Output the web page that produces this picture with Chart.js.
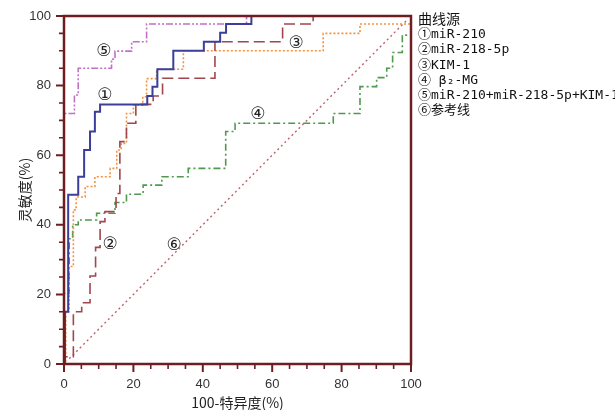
<!DOCTYPE html>
<html>
<head>
<meta charset="utf-8">
<script src="https://cdn.jsdelivr.net/npm/chart.js@4.4.1/dist/chart.umd.min.js"></script>
<style>
  html, body { margin: 0; padding: 0; background: #fff; }
  #wrap { position: relative; width: 615px; height: 410px; }
  #legend {
    position: absolute; left: 418px; top: 11px;
    font: 13px "DejaVu Sans Mono", "Noto Sans CJK SC", monospace;
    line-height: 15.2px; color: #111; white-space: nowrap;
  }
  #legend .ttl { font-family: "Noto Sans CJK SC", sans-serif; font-size: 14px; }
</style>
</head>
<body>
<div id="wrap">
  <canvas id="roc" width="615" height="410"></canvas>
  <div id="legend"></div>
</div>
<script>
// ── data (100-specificity %, sensitivity %) ─────────────
const mir210X = [0, 0.3, 1.2, 4.1, 5.8, 7.5, 8.9, 10.4, 24, 25.5, 26.9, 31.5, 40.3, 45, 46.7, 54, 100];
const mir210Y = [0, 15, 48.6, 53.8, 61.5, 66.8, 72.5, 74.6, 77, 79.7, 84.7, 90, 92.6, 95.2, 97.7, 100, 100];

const mir218X = [0, 0, 2.7, 5.1, 7.5, 9.1, 10.4, 11.8, 15, 16.1, 18, 20.7, 25.7, 28.4, 43.5, 63, 71.8, 100];
const mir218Y = [0, 2.1, 15, 17.6, 25.3, 33.5, 40.9, 43.8, 49, 63.9, 69.2, 74.6, 77, 82.1, 92.6, 97.7, 100, 100];

const kimX = [0, 0.5, 1.5, 2.7, 3.5, 6.1, 8.9, 13.3, 15.2, 16.5, 18, 20, 22.7, 23.8, 26.7, 34.4, 74.7, 85.3, 100];
const kimY = [0, 15, 28, 44.3, 48, 51, 53.8, 56.2, 61.5, 63.4, 72, 74.4, 76.8, 82, 84.7, 90, 95, 97.7, 100];

const b2mgX = [0, 0, 1.5, 2.5, 4.1, 9.4, 14.7, 18, 22.8, 28.2, 35.8, 46.6, 49.3, 77.6, 85.3, 90.1, 93, 94.7, 97.5, 100];
const b2mgY = [0, 20.3, 36, 40, 41.4, 43.3, 46.4, 48.8, 51.4, 53.8, 56.2, 66.8, 69.2, 72, 79.7, 82.3, 85, 89.5, 94.5, 100];

const comboX = [0, 0, 3, 4.1, 13.7, 14.7, 19.5, 23.8, 52.6, 100];
const comboY = [0, 72, 77.3, 85, 87.6, 89.9, 92.6, 97.7, 100, 100];

const refX = [1.5, 99];
const refY = [1.5, 99];

const legendTitle = '曲线源';
const seriesNames = ['①miR-210', '②miR-218-5p', '③KIM-1', '④ β₂-MG', '⑤miR-210+miR-218-5p+KIM-1', '⑥参考线'];

// circled curve marks drawn inside the plot (data units)
const markText = ['①', '②', '③', '④', '⑤', '⑥'];
const markX = [11.8, 13.3, 66.9, 55.9, 11.5, 31.7];
const markY = [77, 34.2, 92, 71.6, 89.7, 33.9];

const AXIS = '#6e1e20';

function pts(xs, ys) { return xs.map((x, i) => ({ x: x, y: ys[i] })); }

// ── legend text ─────────────────────────────
document.getElementById('legend').innerHTML =
  '<div class="ttl">' + legendTitle + '</div>' +
  seriesNames.map(n => '<div>' + n + '</div>').join('');

// ── minor/major ticks, frame and curve marks ────────
const decor = {
  id: 'decor',
  afterDraw(chart) {
    const { ctx, chartArea: a, scales: { x, y } } = chart;
    ctx.save();
    ctx.strokeStyle = AXIS;
    for (let v = 0; v <= 100; v += 5) {
      const major = v % 20 === 0;
      const len = major ? 8 : 5;
      ctx.lineWidth = major ? 2 : 1.6;
      const px = x.getPixelForValue(v);
      const py = y.getPixelForValue(v);
      ctx.beginPath();
      ctx.moveTo(px, a.bottom); ctx.lineTo(px, a.bottom + len);
      ctx.moveTo(a.left, py); ctx.lineTo(a.left - len, py);
      ctx.stroke();
    }
    ctx.lineWidth = 2.5;
    ctx.strokeRect(a.left, a.top, a.right - a.left, a.bottom - a.top);

    ctx.fillStyle = '#222';
    ctx.font = '17px "DejaVu Serif", "DejaVu Sans", serif';
    ctx.textAlign = 'center';
    ctx.textBaseline = 'middle';
    markText.forEach((t, i) => {
      ctx.fillText(t, x.getPixelForValue(markX[i]), y.getPixelForValue(markY[i]));
    });
    ctx.restore();
  }
};

const ctx = document.getElementById('roc').getContext('2d');
new Chart(ctx, {
  type: 'line',
  data: {
    datasets: [
      { label: seriesNames[0], data: pts(mir210X, mir210Y), stepped: 'before',
        borderColor: '#3c3f9a', borderWidth: 2 },
      { label: seriesNames[1], data: pts(mir218X, mir218Y), stepped: 'before',
        borderColor: '#a0464c', borderWidth: 1.6, borderDash: [11, 5] },
      { label: seriesNames[2], data: pts(kimX, kimY), stepped: 'before',
        borderColor: '#f5913e', borderWidth: 1.6, borderDash: [2, 2] },
      { label: seriesNames[3], data: pts(b2mgX, b2mgY), stepped: 'before',
        borderColor: '#4f9a4f', borderWidth: 1.6, borderDash: [7, 3, 2, 3] },
      { label: seriesNames[4], data: pts(comboX, comboY), stepped: 'before',
        borderColor: '#c26fc8', borderWidth: 1.6, borderDash: [7, 2, 2, 2, 2, 2] },
      { label: seriesNames[5], data: pts(refX, refY),
        borderColor: '#c0606e', borderWidth: 1.4, borderDash: [2, 3] }
    ]
  },
  options: {
    responsive: false,
    animation: false,
    events: [],
    elements: { point: { radius: 0 }, line: { fill: false, tension: 0 } },
    layout: { padding: { top: 16, right: 204, left: 0, bottom: 0 } },
    plugins: { legend: { display: false }, tooltip: { enabled: false } },
    scales: {
      x: {
        type: 'linear', min: 0, max: 100,
        afterFit: s => { s.height = 46; },
        grid: { display: false, drawTicks: true, tickLength: 8 },
        border: { display: false },
        ticks: { stepSize: 20, padding: 5, color: '#333',
                 font: { family: '"Liberation Sans", Arial, sans-serif', size: 13 } },
        title: { display: true, text: '100-特异度(%)', color: '#222', padding: 0,
                 font: { family: '"Noto Sans CJK SC", sans-serif', size: 14, lineHeight: 1 } }
      },
      y: {
        type: 'linear', min: 0, max: 100,
        afterFit: s => { s.width = 64; },
        grid: { display: false, drawTicks: true, tickLength: 8 },
        border: { display: false },
        ticks: { stepSize: 20, padding: 5, color: '#333',
                 font: { family: '"Liberation Sans", Arial, sans-serif', size: 13 } },
        title: { display: true, text: '灵敏度(%)', color: '#222', padding: { top: 18 },
                 font: { family: '"Noto Sans CJK SC", sans-serif', size: 14, lineHeight: 1 } }
      }
    }
  },
  plugins: [decor]
});
</script>
</body>
</html>
